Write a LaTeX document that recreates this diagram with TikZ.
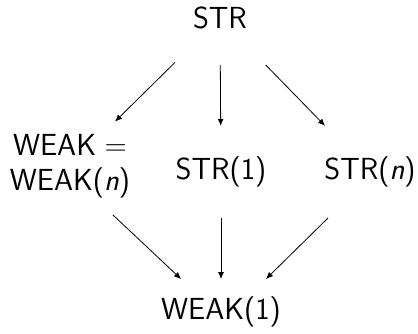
\documentclass[tikz,border=0pt]{standalone}
\usetikzlibrary{calc,arrows.meta}
\renewcommand{\familydefault}{\sfdefault}
\begin{document}
\begin{tikzpicture}[x=1pt,y=-1pt,
  lbl/.style={font=\fontsize{30.5}{35}\selectfont\sffamily, inner sep=0pt, align=center},
  arr/.style={-{Latex[length=7pt,width=6pt]}, line width=0.8pt}]
\useasboundingbox (0,0) rectangle (418,334);
\node[lbl] (str) at (220,18) {STR};
\node[lbl] (weak) at (70,166) {WEAK\kern0.28em=\\WEAK(\textit{n})};
\node[lbl] (str1) at (221,172) {STR(1)};
\node[lbl] (strn) at (370,172) {STR(\textit{n})};
\node[lbl] (weak1) at (221,312) {WEAK(1)};
\draw[arr] ($(str)!0.3!(weak)$) -- ($(str)!0.70!(weak)$);
\draw[arr] ($(str)!0.305!(str1)$) -- ($(str)!0.70!(str1)$);
\draw[arr] ($(str)!0.305!(strn)$) -- ($(str)!0.70!(strn)$);
\draw[arr] ($(weak)+(43,49)$) -- ($(weak1)+(-40,-33)$);
\draw[arr] ($(str1)+(0,46)$) -- ($(weak1)+(0,-33)$);
\draw[arr] ($(strn)+(-42,46)$) -- ($(weak1)+(45,-33)$);
\end{tikzpicture}
\end{document}
